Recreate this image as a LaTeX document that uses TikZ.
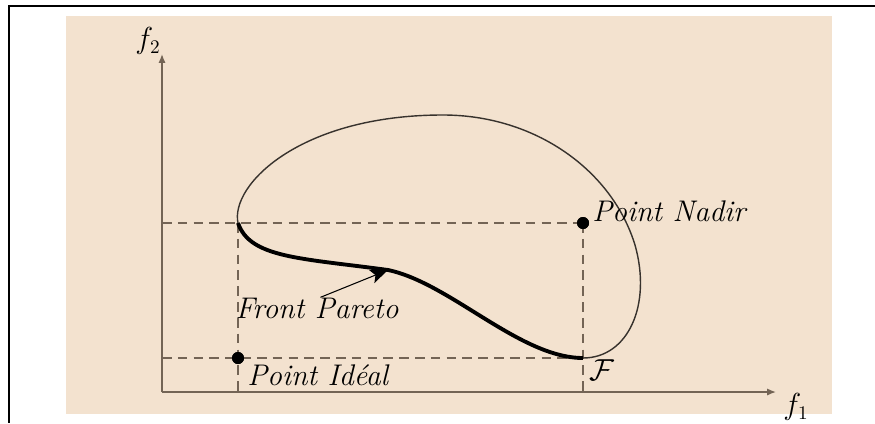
\documentclass[tikz,border=0pt]{standalone}
\usepackage{tikz}
\usetikzlibrary{positioning,arrows.meta}

\definecolor{beige}{RGB}{243,226,207}
\definecolor{axisgray}{RGB}{115,100,85}
\definecolor{curvegray}{RGB}{55,50,45}

\tikzset{
  axis/.style={draw=axisgray, line width=0.8pt, -{Latex[length=5pt,width=4pt]}},
  guide/.style={draw=axisgray, line width=0.8pt, dash pattern=on 5.5pt off 3.5pt},
  dot/.style={circle, fill=black, inner sep=0pt, minimum size=0.24cm},
  lab/.style={inner sep=0pt, font=\fontsize{17}{20}\selectfont\itshape},
  axlab/.style={inner sep=0pt, font=\fontsize{16}{19}\selectfont}
}

\begin{document}
\begin{tikzpicture}[x=0.02cm, y=-0.02cm]
        \useasboundingbox (0,0) rectangle (875,423);
        \fill[beige] (66,16) rectangle (832,414);
        \draw[line width=1.1pt] (875,6) -- (9,6) -- (9,423);

        % axes
        \coordinate (origin) at (162,392);
        \coordinate (xend) at (776,392);
        \coordinate (yend) at (162,54);
        \draw[axis] (origin) -- (xend);
        \draw[axis] (origin) -- (yend);
        \node[axlab] (f1) at (796,407) {$f_1$};
        \node[axlab] (f2) at (148,41) {$f_2$};

        % ideal and nadir points
        \node[dot] (ideal) at (238,358) {};
        \node[dot] (nadir) at (583,223) {};
        \coordinate (top) at (238,223);
        \coordinate (bottom) at (583,358);
        \coordinate (yup) at (162,223);
        \coordinate (ylow) at (162,358);
        \coordinate (xleft) at (238,392);
        \coordinate (xright) at (583,392);
        \draw[guide] (yup) -- (nadir.center);
        \draw[guide] (ylow) -- (bottom);
        \draw[guide] (top) -- (xleft);
        \draw[guide] (nadir.center) -- (xright);
        \node[dot] at (ideal) {};
        \node[dot] at (nadir) {};

        % feasible set
        \draw[curvegray, line width=0.8pt] (top) .. controls (230,185) and (300,115) .. (443,115)
            .. controls (535,115) and (612,170) .. (635,245)
            .. controls (652,305) and (628,358) .. (bottom);
        % pareto front
        \coordinate (pf) at (388,270);
        \draw[black, line width=2.2pt] (top) .. controls (250,258) and (300,258) .. (pf)
            .. controls (450,283) and (520,358) .. (bottom);

        \node[lab, anchor=west] (nadirlab) at ([shift={(9,-12)}]nadir) {Point Nadir};
        \node[lab, anchor=west] (ideallab) at ([shift={(9,17)}]ideal) {Point Idéal};
        \node[lab] (front) at (317,308) {Front Pareto};
        \node[inner sep=0pt, font=\fontsize{16}{19}\selectfont] (feas) at (602,370) {$\mathcal{F}$};
        \draw[line width=0.6pt, -{Stealth[length=0.35cm,width=0.28cm,inset=0.08cm]}] ([xshift=2]front.north) -- (pf);
    \end{tikzpicture}
\end{document}
